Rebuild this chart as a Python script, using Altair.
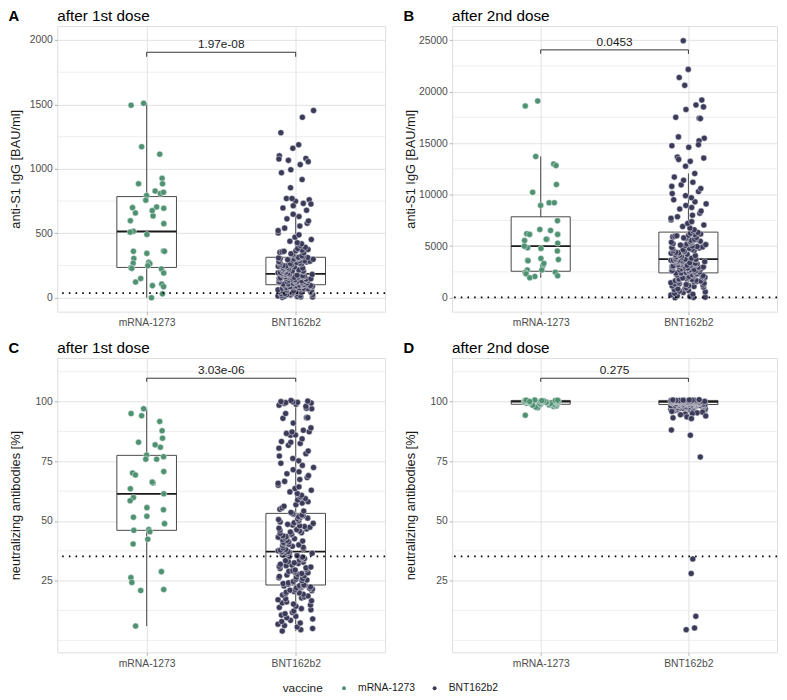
import altair as alt
import pandas as pd

FONT = "Liberation Sans"
vaccines = ["mRNA-1273", "BNT162b2"]
colors = ["#4E9272", "#3B3A58"]

# ---------- Panel A: anti-S1 IgG after 1st dose ----------
A_MRNA = [1494, 1509, 1172, 1114, 927, 884, 884, 828, 808, 793, 818, 757, 704, 699, 694,
          658, 635, 676, 598, 575, 516, 509, 491, 362, 344, 360, 360, 304, 276, 263, 248,
          268, 223, 233, 228, 192, 149, 122, 106, 86, 30, 0, 94]
A_BNT = [3, 6, 6, 9, 12, 13, 16, 18, 22, 24, 25, 28, 31, 33, 35, 38, 40, 42, 45, 47, 50, 52,
         55, 56, 59, 61, 63, 66, 68, 70, 72, 74, 77, 78, 80, 82, 84, 86, 88, 89, 91, 92, 94,
         95, 96, 97, 98, 99, 100,
         102, 104, 106, 108, 109, 111, 113, 115, 117, 118, 120, 122, 124, 126, 127, 129, 131,
         133, 135, 136, 138, 140, 142, 144, 145, 147, 149, 151, 152, 154, 156, 158, 160, 161,
         163, 165, 166, 168, 170, 171, 173, 175, 176, 178, 179, 181, 182, 184, 185,
         188, 191, 194, 196, 199, 202, 205, 207, 210, 213, 216, 219, 221, 224, 227, 230, 233,
         236, 239, 241, 244, 247, 250, 253, 256, 259, 262, 265, 268, 271, 274, 277, 280, 283,
         286, 289, 292, 295, 298, 300, 303, 305, 307, 309, 310, 312, 313, 314,
         318, 325, 331, 337, 342, 348, 352, 356, 360, 364, 369, 375, 381, 392, 405, 418, 427,
         438, 452, 470, 488, 503, 521, 540, 556, 578, 596, 612, 630, 648,
         1453, 1400, 1281, 1187, 1160, 1101, 1081, 1056, 1076, 1066, 1033, 993, 970, 917, 853,
         749, 770, 770, 760, 732, 727, 714, 696, 679]
A_LO = [0, 0]
A_Q1 = [235, 101]
A_MED = [514, 185]
A_Q3 = [785, 314]
A_HI = [1509, 648]
A_THR = [35.2]
A_BRACKET = [1905, 1870]
A_P = "1.97e-08"

# ---------- Panel B: anti-S1 IgG after 2nd dose ----------
B_MRNA = [18610, 19085, 13704, 12977, 12818, 10983, 10223, 9210, 9210, 8957, 7469, 6615,
          6520, 6203, 6140, 6140, 5665, 5665, 5539, 5286, 4843, 5000, 4779, 4526, 3798, 3640,
          3703, 3577, 3102, 3323, 2690, 2690, 2469, 2437, 2311, 2121, 2057, 1931]
B_BNT = [0, 20, 50, 120, 180, 260, 340, 420, 500, 560, 640, 700, 780, 850, 910, 960, 1020,
         1080, 1130, 1180, 1220, 1270, 1320, 1360, 1400, 1450, 1490, 1530, 1570, 1610, 1650,
         1690, 1730, 1770, 1800, 1840, 1880, 1910, 1950, 1990, 2020, 2060, 2090, 2130, 2160,
         2200, 2230, 2260, 2290, 2320, 2350, 2380, 2400,
         2420, 2450, 2470, 2500, 2530, 2560, 2580, 2610, 2640, 2660, 2690, 2720, 2740, 2770,
         2800, 2820, 2850, 2880, 2900, 2930, 2960, 2980, 3010, 3040, 3060, 3090, 3110, 3140,
         3160, 3190, 3210, 3240, 3260, 3290, 3310, 3340, 3360, 3390, 3410, 3440, 3460, 3490,
         3510, 3530, 3560, 3580, 3600, 3620, 3640, 3660, 3680, 3700, 3720, 3735,
         3780, 3830, 3880, 3930, 3980, 4030, 4080, 4120, 4170, 4220, 4260, 4310, 4360, 4400,
         4450, 4500, 4540, 4590, 4640, 4680, 4730, 4780, 4820, 4870, 4920, 4960, 5010, 5060,
         5100, 5150, 5200, 5240, 5290, 5340, 5380, 5430, 5480, 5520, 5570, 5620, 5660, 5710,
         5760, 5800, 5850, 5900, 5950, 6000, 6060, 6120, 6180, 6250, 6330,
         6450, 6600, 6750, 6900, 7050, 7200, 7380, 7550, 7700, 7850, 8000, 8200, 8400, 8600,
         8750, 8950, 9100, 9300, 9500, 9700, 9900, 10100, 10300, 10600, 10800, 10950, 11200,
         11400, 11700, 12050,
         24940, 22155, 21364, 20604, 19180, 18705, 18515, 18262, 17503, 17408, 17380, 15603,
         15477, 15224, 14844, 14749, 14591, 13641, 13546, 13420, 13230, 12755]
B_LO = [1931, 0]
B_Q1 = [2564, 2405]
B_MED = [5000, 3735]
B_Q3 = [7850, 6362]
B_HI = [13704, 12059]
B_THR = [35.2]
B_BRACKET = [24050, 23660]
B_P = "0.0453"

# ---------- Panel C: neutralizing antibodies after 1st dose ----------
C_MRNA = [95.0, 97.0, 94.1, 91.7, 87.8, 84.7, 83.0, 81.9, 80.9, 77.6, 76.9, 75.9, 75.9, 70.1,
          70.7, 69.3, 65.9, 66.3, 63.5, 61.4, 59.8, 58.5, 55.6, 54.7, 52.0, 51.6, 48.9, 46.1,
          46.4, 45.5, 42.4, 40.4, 28.8, 26.3, 24.3, 21.3, 20.9, 6.0]
C_BNT = [3.9, 4.5, 5.0, 5.6, 6.2, 6.8, 7.3, 7.9, 8.4, 9.0, 9.5, 10.1, 10.6, 11.2, 11.7, 12.3,
         12.8, 13.3, 13.8, 14.3, 14.8, 15.2, 15.7, 16.1, 16.6, 17.0, 17.4, 17.8, 18.2, 18.6,
         19.0, 19.3, 19.6, 19.9, 20.2, 20.5, 20.8, 21.0, 21.3, 21.5, 21.8, 22.0, 22.2, 22.4,
         22.6, 22.8, 22.9, 23.0, 23.1, 23.2,
         23.5, 23.8, 24.1, 24.4, 24.7, 25.0, 25.3, 25.6, 25.9, 26.2, 26.5, 26.8, 27.1, 27.4,
         27.7, 28.0, 28.3, 28.6, 28.9, 29.2, 29.5, 29.8, 30.1, 30.4, 30.7, 31.0, 31.3, 31.6,
         31.9, 32.2, 32.5, 32.8, 33.1, 33.4, 33.7, 34.0, 34.3, 34.6, 34.9, 35.2, 35.5, 35.8,
         36.1, 36.3, 36.5, 36.7, 36.9, 37.0, 37.1, 37.2,
         37.5, 37.8, 38.1, 38.4, 38.7, 39.0, 39.4, 39.7, 40.0, 40.3, 40.6, 41.0, 41.3, 41.6,
         41.9, 42.2, 42.6, 42.9, 43.2, 43.5, 43.8, 44.2, 44.5, 44.8, 45.1, 45.4, 45.8, 46.1,
         46.4, 46.7, 47.0, 47.4, 47.7, 48.0, 48.3, 48.6, 49.0, 49.3, 49.6, 49.9, 50.2, 50.6,
         50.9, 51.2, 51.5, 51.8, 52.2, 52.5, 52.8, 53.1,
         53.6, 54.2, 54.9, 55.5, 56.2, 56.8, 57.5, 58.1, 58.8, 59.4, 60.1, 60.8, 61.5, 62.2,
         62.9, 63.6, 64.3, 65.0, 65.8, 66.6, 67.4, 68.2, 69.0, 69.8, 70.6, 71.5, 72.4, 73.3,
         74.2, 75.2, 76.2, 77.2, 78.2, 79.3, 80.5, 81.7, 82.5, 83.0, 83.3, 84.4, 85.9, 86.0,
         86.7, 87.3, 87.4, 88.0, 89.0, 91.0, 93.0, 93.3, 93.3, 95.0, 97.0, 97.2, 98.0, 98.5,
         98.9, 99.2, 99.4, 99.6, 99.7, 99.9, 100.0, 100.2, 100.5]
C_LO = [6.0, 3.9]
C_Q1 = [46.1, 23.2]
C_MED = [61.4, 37.2]
C_Q3 = [77.5, 53.2]
C_HI = [97.0, 100.5]
C_THR = [35.2]
C_BRACKET = [109.8, 108.3]
C_P = "3.03e-06"

# ---------- Panel D: neutralizing antibodies after 2nd dose ----------
D_MRNA = [94.3, 97.4, 97.7, 98.0, 98.2, 98.3, 98.5, 98.6, 98.8, 98.9, 99.0, 99.1, 99.2, 99.3,
          99.4, 99.5, 99.6, 99.7, 99.8, 99.8, 99.9, 100.0, 100.0, 100.0, 100.1, 100.1, 100.2,
          100.2, 100.3, 100.3, 100.4, 100.4, 100.5, 100.5, 100.6, 100.6, 100.7, 100.0]
D_BNT = [96.3, 96.4, 96.5, 96.6, 96.7, 96.8, 96.9, 97.0, 97.1, 97.1, 97.2, 97.3, 97.4, 97.4,
         97.5, 97.6, 97.6, 97.7, 97.8, 97.8, 97.9, 98.0, 98.0, 98.1, 98.1, 98.2, 98.2, 98.3,
         98.3, 98.4, 98.4, 98.5, 98.5, 98.5, 98.6, 98.6, 98.6, 98.7, 98.7, 98.7, 98.8, 98.8,
         98.9, 98.9, 98.9, 99.0, 99.0, 99.0, 99.1, 99.1, 99.1, 99.2, 99.2, 99.2, 99.3, 99.3,
         99.3, 99.4, 99.4, 99.4, 99.5, 99.5, 99.5, 99.5, 99.6, 99.6, 99.6, 99.6, 99.7, 99.7,
         99.7, 99.7, 99.8, 99.8, 99.8, 99.8, 99.8, 99.9, 99.9, 99.9, 99.9, 99.9, 99.9, 99.9,
         100.0, 100.0, 100.0, 100.0, 100.0, 100.0, 100.0, 100.0, 100.0, 100.0,
         100.1, 100.1, 100.1, 100.1, 100.1, 100.1, 100.2, 100.2, 100.2, 100.2, 100.2, 100.2,
         100.3, 100.3, 100.3, 100.3, 100.3, 100.3, 100.4, 100.4, 100.4, 100.4, 100.4, 100.4,
         100.5, 100.5, 100.5, 100.5, 100.5, 100.5, 100.6, 100.6, 100.6, 100.7, 100.7, 100.8,
         95.9, 95.6, 95.3, 95.0, 94.8, 94.5, 94.0, 93.6, 93.2, 92.9, 92.9, 88.1, 85.9, 76.8,
         34.1, 28.0, 10.1, 5.2, 4.5]
D_LO = [97.4, 96.3]
D_Q1 = [98.9, 98.8]
D_MED = [100.0, 99.9]
D_Q3 = [100.5, 100.5]
D_HI = [100.7, 100.8]
D_THR = [35.2]
D_BRACKET = [109.8, 108.3]
D_P = "0.275"

GRID = "#E2E2E2"
TICK = "#B3B3B3"
LABEL = "#4D4D4D"
BOXW = 0.2


def panel(mrna, bnt, lo, q1, med, q3, hi, thr, bracket, pval, ydom, ymajor, yminor,
          ytitle, letter, title, width, height, legend):
    pts = pd.DataFrame({
        "vaccine": [vaccines[0]] * len(mrna) + [vaccines[1]] * len(bnt),
        "code": [1] * len(mrna) + [2] * len(bnt),
        "value": mrna + bnt,
    })
    box = pd.DataFrame({"vaccine": vaccines, "code": [1, 2], "lo": lo, "q1": q1,
                        "med": med, "q3": q3, "hi": hi})
    xs = alt.Scale(domain=[0.4, 2.6], nice=False, zero=False)
    ys = alt.Scale(domain=ydom, nice=False, zero=False)
    label_expr = f"datum.value == 1 ? '{vaccines[0]}' : '{vaccines[1]}'"
    xaxis = alt.Axis(values=[1, 2], labelExpr=label_expr, title=None, grid=True,
                     gridColor=GRID, gridWidth=1, domain=False, tickColor=TICK, tickSize=3,
                     labelColor=LABEL, labelFontSize=10.5, labelPadding=3, labelFont=FONT)
    yaxis = alt.Axis(values=ymajor, format="d", title=ytitle, grid=True, gridColor=GRID,
                     gridWidth=1, domain=False, tickColor=TICK, tickSize=3, labelColor=LABEL,
                     labelFontSize=10.5, labelPadding=2, labelFont=FONT,
                     titleFontSize=13, titleFontWeight="normal", titleColor="#1A1A1A",
                     titleFont=FONT, minExtent=30, maxExtent=30, titlePadding=5)

    def X(field):
        return alt.X(field, scale=xs, axis=xaxis)

    def Y(field):
        return alt.Y(field, scale=ys, axis=yaxis)

    minor = alt.Chart(pd.DataFrame({"m": yminor})).mark_rule(
        color=GRID, strokeWidth=0.6).encode(y=Y("m:Q"))

    boxbase = alt.Chart(box).transform_calculate(
        xl=f"datum.code - {BOXW}", xr=f"datum.code + {BOXW}")
    rect = boxbase.mark_rect(fill="white", stroke="#333333", strokeWidth=0.9).encode(
        x=X("xl:Q"), x2="xr:Q", y=Y("q1:Q"), y2="q3:Q")
    whisk_lo = boxbase.mark_rule(color="#333333", strokeWidth=0.9).encode(
        x=X("code:Q"), y=Y("lo:Q"), y2="q1:Q")
    whisk_hi = boxbase.mark_rule(color="#333333", strokeWidth=0.9).encode(
        x=X("code:Q"), y=Y("q3:Q"), y2="hi:Q")
    median = boxbase.mark_rule(color="#1A1A1A", strokeWidth=1.8).encode(
        x=X("xl:Q"), x2="xr:Q", y=Y("med:Q"))

    points = alt.Chart(pts).transform_window(
        idx="row_number()", groupby=["vaccine"]
    ).transform_calculate(
        jx="datum.code + (abs(sin(datum.idx * 12.9898 + datum.code * 3.7) * 43758.5453) % 1 - 0.5) * 0.24"
    ).mark_circle(size=38, opacity=1, stroke="#EDEDF2", strokeWidth=0.5).encode(
        x=X("jx:Q"),
        y=Y("value:Q"),
        color=alt.Color("vaccine:N", scale=alt.Scale(domain=vaccines, range=colors),
                        legend=legend),
    )

    threshold = alt.Chart(pd.DataFrame({"t": thr})).mark_rule(
        color="black", strokeWidth=1.8, strokeDash=[1.6, 5.2]).encode(y=Y("t:Q"))

    br = pd.DataFrame({"x1": [1], "x2": [2], "y": [bracket[0]], "yt": [bracket[1]],
                       "p": [pval]})
    br_h = alt.Chart(br).mark_rule(color="#333333", strokeWidth=1).encode(
        x=X("x1:Q"), x2="x2:Q", y=Y("y:Q"))
    br_ticks = alt.Chart(pd.DataFrame({"c": [1, 2], "y": [bracket[0]] * 2,
                                       "yt": [bracket[1]] * 2})).mark_rule(
        color="#333333", strokeWidth=1).encode(x=X("c:Q"), y=Y("y:Q"), y2="yt:Q")
    br_text = alt.Chart(br).transform_calculate(xm="(datum.x1 + datum.x2) / 2").mark_text(
        fontSize=12, font=FONT, color="#1A1A1A", baseline="bottom", dy=-1).encode(
        x=X("xm:Q"), y=Y("y:Q"), text="p:N")

    heads = pd.DataFrame({"l": [letter], "t": [title]})
    letter_mark = alt.Chart(heads).mark_text(
        fontSize=15, fontWeight="bold", font=FONT, color="black", align="center",
        baseline="alphabetic").encode(x=alt.value(-44), y=alt.value(-5.5), text="l:N")
    title_mark = alt.Chart(heads).mark_text(
        fontSize=15.5, font=FONT, color="black", align="left",
        baseline="alphabetic").encode(x=alt.value(0), y=alt.value(-5.5), text="t:N")

    return alt.layer(minor, rect, whisk_lo, whisk_hi, median, points, threshold,
                     br_h, br_ticks, br_text, letter_mark, title_mark).properties(
        width=width, height=height)


LEGEND = alt.Legend(orient="none", legendX=229, legendY=667, direction="horizontal",
                    title="vaccine", titleOrient="left",
                    titleFontSize=12, titleFontWeight="normal",
                    titleColor="#1A1A1A", titleFont=FONT,
                    labelFontSize=10.5, labelColor="#1A1A1A",
                    labelFont=FONT, symbolType="circle",
                    symbolSize=16, symbolStrokeWidth=0, labelOffset=9,
                    columnPadding=14, titlePadding=16)

IGG_TITLE = "anti-S1 IgG [BAU/ml]"
NAB_TITLE = "neutralizing antibodies [%]"

pA = panel(A_MRNA, A_BNT, A_LO, A_Q1, A_MED, A_Q3, A_HI, A_THR, A_BRACKET, A_P,
           [-108, 2108], [0, 500, 1000, 1500, 2000], [250, 750, 1250, 1750],
           IGG_TITLE, "A", "after 1st dose", 333, 290, LEGEND)
pB = panel(B_MRNA, B_BNT, B_LO, B_Q1, B_MED, B_Q3, B_HI, B_THR, B_BRACKET, B_P,
           [-1357, 26357], [0, 5000, 10000, 15000, 20000, 25000],
           [2500, 7500, 12500, 17500, 22500],
           IGG_TITLE, "B", "after 2nd dose", 330, 290, LEGEND)
pC = panel(C_MRNA, C_BNT, C_LO, C_Q1, C_MED, C_Q3, C_HI, C_THR, C_BRACKET, C_P,
           [-5, 118.3], [25, 50, 75, 100], [0, 12.5, 37.5, 62.5, 87.5, 112.5],
           NAB_TITLE, "C", "after 1st dose", 333, 299, LEGEND)
pD = panel(D_MRNA, D_BNT, D_LO, D_Q1, D_MED, D_Q3, D_HI, D_THR, D_BRACKET, D_P,
           [-5, 118.3], [25, 50, 75, 100], [0, 12.5, 37.5, 62.5, 87.5, 112.5],
           NAB_TITLE, "D", "after 2nd dose", 330, 299, LEGEND)

chart = alt.vconcat(
    alt.hconcat(pA, pB, spacing=16),
    alt.hconcat(pC, pD, spacing=16),
    spacing=12,
).properties(padding={"left": 0, "top": -5, "right": 0, "bottom": 0}
).configure_view(stroke="#B3B3B3", strokeWidth=1
).configure(font=FONT, background="white")

chart.save("out.html", embed_options={"renderer": "svg", "actions": False})
